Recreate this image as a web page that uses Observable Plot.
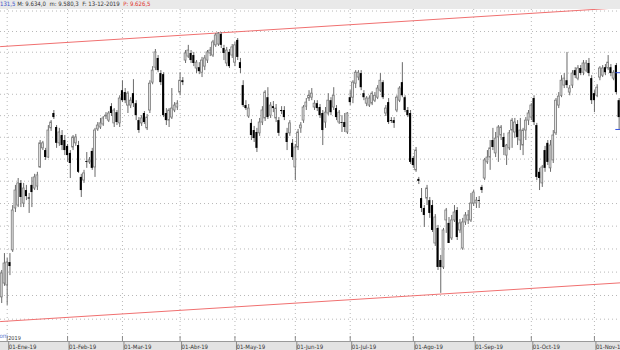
<!DOCTYPE html>
<html>
<head>
<meta charset="utf-8">
<script src="https://cdn.jsdelivr.net/npm/d3@7"></script>
<script src="https://cdn.jsdelivr.net/npm/@observablehq/plot@0.6"></script>
<style>
  html, body { margin: 0; padding: 0; background: #fff; }
  body { width: 620px; height: 350px; overflow: hidden; position: relative; }
  #hdr { height: 9px; background: #e9e9e9; white-space: nowrap; overflow: hidden;
         font: 6px "Liberation Sans Narrow", "DejaVu Sans Condensed", sans-serif; line-height: 8px; color: #333; }
  #hdr .b { color: #3b52c9; } #hdr .r { color: #e0302a; }
  #chart svg { display: block; }
</style>
</head>
<body>
<div id="hdr"><span class="b">131,5</span> M: 9.634,0&nbsp; m: 9.580,3&nbsp; F: 13-12-2019&nbsp; <span class="r">P: 9.626,5</span></div>
<div id="chart"></div>
<script>
// Daily candles, trading-day index from -2 (28-Dic-18) to 223 (mid Nov-19)
const opens = [
8392,8451,8443,8541,8594,8778,8791,8890,8800,8858,
8825,8881,8867,8876,8962,9049,9039,9007,9141,9210,
9145,9072,9108,9085,9058,9026,9053,9072,9062,8917,
8903,8989,8985,9035,8962,9136,9145,9159,9196,9177,
9242,9164,9214,9164,9317,9308,9247,9247,9303,9256,
9177,9164,9210,9141,9224,9355,9426,9470,9398,9393,
9210,9177,9191,9224,9238,9308,9364,9460,9479,9494,
9484,9422,9426,9402,9431,9460,9494,9484,9533,9537,
9586,9518,9446,9499,9484,9450,9557,9450,9341,9247,
9196,9164,9131,9122,9118,9168,9187,9284,9200,9242,
9187,9177,9224,9224,9118,9118,9072,8962,9053,9141,
9177,9242,9280,9284,9238,9256,9238,9210,9168,9210,
9270,9238,9233,9168,9168,9168,9122,9284,9284,9350,
9379,9398,9303,9256,9247,9256,9270,9284,9317,9355,
9210,9261,9177,9177,9224,9270,9355,9284,9224,9210,
9003,8949,8908,8822,8778,8822,8813,8791,8624,8690,
8550,8520,8725,8712,8646,8725,8769,8681,8602,8716,
8725,8725,8800,8800,8813,8872,8912,8985,9007,9085,
9026,9099,9108,9099,9016,9049,9131,9122,9159,9085,
9062,9131,9177,9191,9280,9154,8940,8890,9039,9072,
8958,8994,9118,9247,9293,9341,9364,9308,9341,9412,
9374,9422,9402,9412,9446,9374,9303,9293,9379,9388,
9426,9422,9426,9374,9436,9270
];
const highs = [
8507,8580,8559,8580,8791,8881,8912,8903,8890,8881,
8845,8917,8931,8940,9085,9081,9049,9154,9177,9224,
9154,9141,9131,9108,9067,9039,9108,9113,9081,8931,
8949,9030,9007,9049,9141,9168,9187,9196,9214,9219,
9256,9233,9224,9293,9364,9327,9312,9284,9369,9270,
9191,9200,9219,9205,9364,9431,9513,9484,9412,9402,
9233,9233,9327,9261,9270,9402,9379,9508,9533,9508,
9499,9460,9450,9475,9484,9508,9523,9557,9590,9595,
9595,9533,9523,9513,9537,9547,9566,9470,9364,9270,
9252,9182,9150,9141,9187,9242,9317,9331,9261,9266,
9252,9191,9242,9242,9141,9177,9090,9067,9136,9168,
9247,9280,9317,9327,9270,9270,9252,9224,9238,9303,
9284,9331,9247,9224,9200,9210,9214,9317,9364,9412,
9412,9412,9317,9289,9293,9312,9308,9341,9398,9364,
9247,9280,9191,9191,9293,9336,9450,9293,9238,9224,
9012,9053,8917,8867,8791,8881,8827,8813,8751,8703,
8572,8690,8778,8738,8747,8791,8782,8729,8734,8760,
8769,8845,8858,8827,8831,8881,9003,9039,9085,9141,
9122,9154,9154,9118,9067,9131,9187,9187,9177,9187,
9141,9191,9224,9256,9293,9164,8958,8971,9058,9085,
9085,9131,9280,9308,9388,9398,9499,9341,9412,9426,
9436,9436,9460,9460,9470,9388,9317,9345,9431,9436,
9441,9484,9441,9412,9446,9280
];
const lows = [
8366,8439,8358,8485,8585,8760,8782,8782,8782,8813,
8756,8782,8858,8858,8958,9039,8994,9003,9127,9182,
9049,9058,9039,9016,8985,8912,9039,9058,8935,8827,
8890,8958,8976,8949,8917,9127,9136,9150,9182,9168,
9196,9145,9154,9145,9261,9256,9210,9233,9238,9177,
9118,9150,9159,9131,9210,9345,9412,9402,9341,9191,
9154,9145,9182,9214,9224,9293,9341,9446,9470,9446,
9431,9398,9393,9379,9412,9446,9479,9475,9523,9528,
9518,9460,9431,9422,9470,9431,9460,9398,9238,9224,
9187,9085,9076,9030,9104,9154,9173,9182,9187,9214,
9168,9104,9205,9177,9039,9104,8994,8903,9039,9118,
9164,9224,9266,9270,9224,9219,9187,9062,9141,9200,
9200,9224,9177,9159,9122,9122,9113,9247,9256,9327,
9364,9317,9270,9242,9238,9247,9261,9275,9308,9275,
9196,9159,9164,9141,9214,9261,9284,9214,9191,8976,
8958,8940,8885,8760,8694,8791,8734,8672,8611,8507,
8409,8511,8668,8624,8637,8716,8637,8668,8594,8703,
8707,8716,8787,8778,8778,8845,8903,8976,8949,9039,
9007,8985,9085,9016,8971,9039,9049,9094,9062,9039,
9016,9085,9154,9177,9154,8903,8858,8872,8940,8971,
8940,8980,9108,9233,9284,9327,9327,9293,9327,9374,
9364,9388,9388,9402,9383,9252,9214,9284,9364,9379,
9388,9412,9383,9364,9298,9136
];
const closes = [
8494,8537,8541,8524,8769,8858,8890,8827,8867,8831,
8820,8849,8917,8926,9072,9072,9007,9131,9168,9191,
9072,9122,9062,9039,9016,8980,9099,9099,8940,8858,
8935,8985,8994,8958,9131,9154,9164,9187,9200,9210,
9210,9224,9168,9280,9270,9270,9303,9270,9256,9200,
9131,9187,9168,9191,9350,9412,9499,9412,9355,9200,
9177,9224,9233,9247,9256,9364,9355,9494,9508,9460,
9446,9450,9407,9460,9470,9499,9508,9547,9581,9590,
9533,9494,9508,9431,9523,9533,9475,9422,9247,9233,
9233,9108,9094,9049,9168,9224,9308,9191,9247,9233,
9233,9118,9219,9191,9076,9164,9007,9053,9122,9154,
9238,9261,9293,9303,9256,9233,9200,9131,9214,9270,
9214,9293,9191,9214,9164,9145,9210,9261,9355,9402,
9402,9331,9284,9280,9280,9303,9293,9327,9364,9284,
9233,9168,9173,9164,9284,9327,9293,9224,9200,8985,
8971,9039,8899,8778,8747,8867,8756,8681,8738,8520,
8520,8681,8769,8624,8725,8760,8650,8712,8716,8747,
8747,8800,8849,8813,8809,8858,8994,9007,9049,9053,
9094,9145,9145,9053,9062,9118,9177,9168,9099,9131,
9131,9177,9210,9247,9168,8917,8912,8962,8958,8985,
9062,9108,9270,9289,9364,9374,9341,9327,9398,9388,
9422,9398,9446,9446,9398,9270,9270,9331,9422,9422,
9402,9450,9398,9402,9308,9191
];
const firstIndex = -2;

// Month ticks: trading-day index of first session of each month
const tickIdx = [0, 22, 42, 63, 83, 105, 125, 148, 170, 191, 214];
const tickLabels = ["01-Ene-19","01-Feb-19","01-Mar-19","01-Abr-19","01-May-19","01-Jun-19",
                    "01-Jul-19","01-Ago-19","01-Sep-19","01-Oct-19","01-Nov-19"];

// Horizontal grid levels (every 100 points)
const gridLevels = [8300,8400,8500,8600,8700,8800,8900,9000,9100,9200,9300,9400,9500,9600,9700];

// Red trend channel (price at left and right edge)
const channelIdx = [-2.44, 223.5];
const upperChannel = [9527, 9716];
const lowerChannel = [8290, 8454];

// Blue price markers at the right edge
const markerPrices = [9402, 9136];

const xDomain = [-2.44, 223.5];
const yDomain = [8206.8, 9707.5];

const candles = opens.map((o, k) => ({ i: k + firstIndex, o, h: highs[k], l: lows[k], c: closes[k] }));
const up = candles.filter(d => d.c >= d.o);
const down = candles.filter(d => d.c < d.o);
const upper = channelIdx.map((i, k) => ({ i, p: upperChannel[k] }));
const lower = channelIdx.map((i, k) => ({ i, p: lowerChannel[k] }));
const lastIdx = candles[candles.length - 1].i;
const font = '"Liberation Sans Narrow", "DejaVu Sans Condensed", sans-serif';

const chart = Plot.plot({
  width: 620, height: 341,
  marginTop: 0, marginRight: 0, marginBottom: 9, marginLeft: 0,
  style: { background: "linear-gradient(#fff 0 332px, #e3e3e3 332px)", fontFamily: font, fontSize: "6px", color: "#333", overflow: "hidden" },
  x: { domain: xDomain },
  y: { type: "log", domain: yDomain, axis: null },
  marks: [
    Plot.gridY(gridLevels, { stroke: "#b8b8b8", strokeOpacity: 1, strokeDasharray: "1,3" }),
    Plot.gridX(tickIdx, { stroke: "#b8b8b8", strokeOpacity: 1, strokeDasharray: "1,3" }),
    Plot.line(upper, { x: "i", y: "p", stroke: "#f07070", strokeWidth: 1, clip: true }),
    Plot.line(lower, { x: "i", y: "p", stroke: "#f07070", strokeWidth: 1, clip: true }),
    Plot.ruleX(candles, { x: "i", y1: "l", y2: "h", stroke: "#6a6a6a", strokeWidth: 1 }),
    Plot.rect(up, { x1: d => d.i - 0.34, x2: d => d.i + 0.34, y1: "o", y2: "c", fill: "#e6e6e6", stroke: "#7a7a7a", strokeWidth: 0.8 }),
    Plot.rect(down, { x1: d => d.i - 0.38, x2: d => d.i + 0.38, y1: "o", y2: "c", fill: "#000" }),
    Plot.ruleY(markerPrices, { x1: lastIdx - 1.2, x2: xDomain[1], stroke: "#2f4fe0", strokeWidth: 1 }),
    Plot.ruleY([yDomain[0]], { stroke: "#9a9a9a" }),
    Plot.ruleX(tickIdx, { stroke: "#8a8a8a", insetTop: 327 }),
    Plot.axisX(tickIdx, { tickSize: 9, tickPadding: -6, tickFormat: d => tickLabels[tickIdx.indexOf(d)],
      textAnchor: "start", dx: 1.5, stroke: "#8a8a8a", fill: "#333", label: null, fontSize: 6 }),
    Plot.text(["2019"], { x: tickIdx[0], frameAnchor: "bottom", lineAnchor: "bottom", textAnchor: "start", dx: 1, dy: -1.5, fill: "#333", fontSize: 5.5 }),
    Plot.text(["om"], { frameAnchor: "bottom-left", lineAnchor: "bottom", textAnchor: "start", dx: -1, dy: -3.5, fill: "#6a7fd0", fontSize: 6 })
  ]
});
document.getElementById("chart").appendChild(chart);
</script>
</body>
</html>
